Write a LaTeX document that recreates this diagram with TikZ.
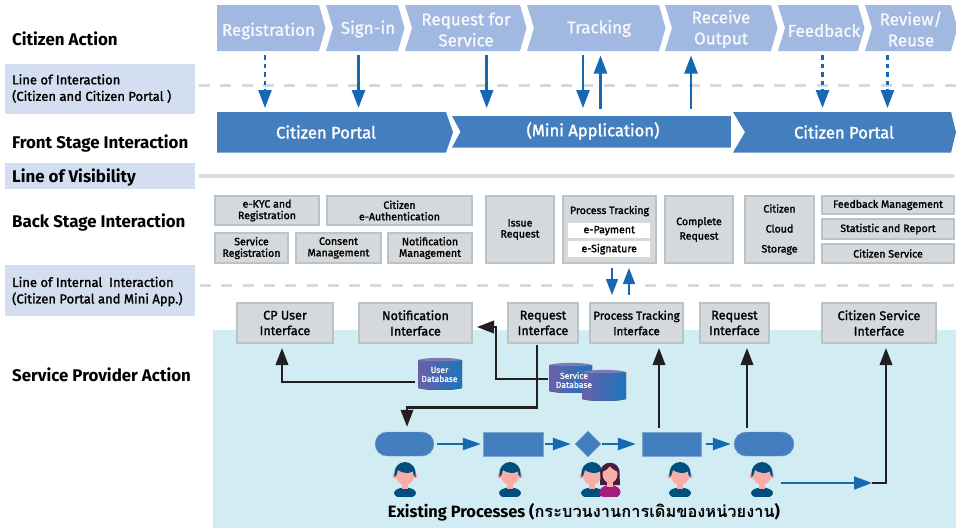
\documentclass[tikz,border=0pt]{standalone}
\usepackage{fontspec}
\setmainfont{Fira Sans}
\newfontfamily\medf[FakeBold=1.6]{Fira Sans}
\newfontfamily\lightmed[FakeBold=0.9]{Fira Sans}
\newfontfamily\thaifont[Script=Thai]{Loma}
\usetikzlibrary{arrows.meta,calc,shapes.geometric}
\definecolor{chevlight}{HTML}{A1B9E0}
\definecolor{chevdark}{HTML}{437EBF}
\definecolor{labelbg}{HTML}{D3DFF0}
\definecolor{linegray}{HTML}{D6DADD}
\definecolor{boxfill}{HTML}{D6D9DC}
\definecolor{boxedge}{HTML}{B9C3C9}
\definecolor{arrowblue}{HTML}{1569B3}
\definecolor{inkblack}{HTML}{231F20}
\definecolor{stagebg}{HTML}{D2ECF3}
\definecolor{hairblue}{HTML}{00507F}
\definecolor{skin}{HTML}{F9ADA7}
\definecolor{hairdark}{HTML}{451C3E}
\definecolor{dress}{HTML}{A51C7E}
\definecolor{dbleft}{HTML}{6A60A9}
\definecolor{dbright}{HTML}{1B75BB}
\newcommand{\fnt}[2]{\fontsize{#1}{#2}\selectfont}
\newcommand{\chv}[9]{%
  \pgfmathsetmacro{\ymid}{(#4+#5)/2}%
  \pgfmathsetmacro{\tipx}{#3+#6}%
  \pgfmathsetmacro{\notx}{#2+#7}%
  \fill[#8] (#2,#4) -- (#3,#4) -- (\tipx,\ymid) -- (#3,#5) -- (#2,#5) -- (\notx,\ymid) -- cycle;%
  \coordinate (#1) at (#2,\ymid);}
\newcommand{\bx}[7][bxst]{%
  \pgfmathsetmacro{\bxW}{#5-#3-2}%
  \pgfmathsetmacro{\bxH}{#6-#4-2}%
  \pgfmathsetmacro{\bxX}{(#3+#5)/2}%
  \pgfmathsetmacro{\bxY}{(#4+#6)/2}%
  \node[#1,minimum width=\bxW pt,minimum height=\bxH pt] (#2) at (\bxX,\bxY) {#7};}
\newcommand{\person}[5]{%
  \begin{scope}[shift={(#1,462)}]
    \begin{scope}
      \clip (-14,25.5) rectangle (14,34);
      \fill[#3] (0,31) ellipse [x radius=11,y radius=5.5];
    \end{scope}
    \fill[#2] (-3,18) rectangle (3,27);
    \fill[#2] (-10.2,14) circle [radius=2.4];
    \fill[#2] (10.2,14) circle [radius=2.4];
    \fill[#2] (0,12) ellipse [x radius=9.5,y radius=11];
    \fill[#4] (-10.5,15) .. controls (-13,-5) and (13,-5) .. (10.5,15) -- (8.5,13) -- (8,9.5) .. controls (3,12) and (-3,11) .. (-7,8) -- (-8.5,13) -- cycle;
    #5
  \end{scope}}
\newcommand{\cyl}[5]{%
  \fill[left color=dbleft,right color=dbright] (#1,#2+2) -- (#1,#4-2) .. controls (#1+8,#4+0.6) and (#3-8,#4+0.6) .. (#3,#4-2) -- (#3,#2+2) -- cycle;
  \fill[dbleft!85!white] (#1,#2+2) .. controls (#1+8,#2-0.8) and (#3-8,#2-0.8) .. (#3,#2+2) .. controls (#3-8,#2+3.6) and (#1+8,#2+3.6) .. (#1,#2+2) -- cycle;
  }
\tikzset{
  sideh/.style={anchor=west,inner sep=0pt,font=\bfseries\fnt{16.9}{20},text=black},
  sidel/.style={anchor=west,inner sep=0pt,align=left,font=\medf\fnt{13}{16.5},text=black},
  labelblock/.style={fill=labelbg,inner sep=0pt,anchor=north west},
  chevtxt/.style={text=white!92!chevlight,align=center,inner sep=0pt,font=\lightmed\fnt{17}{21}},
  portaltxt/.style={text=white,align=center,inner sep=0pt,font=\medf\fnt{16.6}{20}},
  bxst/.style={draw=boxedge,fill=boxfill,line width=2pt,inner sep=0pt,align=center,text=black,font=\medf\fnt{10.6}{11.5}},
  ifst/.style={bxst,font=\medf\fnt{12.6}{15.5}},
  wbox/.style={fill=white,inner sep=0pt,text=black,font=\medf\fnt{10.6}{11.5}},
  procshape/.style={fill=chevdark,draw=chevdark!70!white,line width=0.4pt,inner sep=0pt},
  blu/.style={draw=arrowblue,line width=2.5pt,-{Triangle[length=18pt,width=13pt]},arrowblue},
  bludash/.style={blu,dash pattern=on 4.5pt off 4pt},
  blus/.style={draw=arrowblue,line width=1.6pt,-{Triangle[length=16pt,width=12pt]},arrowblue},
  blup/.style={draw=arrowblue,line width=2.2pt,-{Triangle[length=18pt,width=12pt]},arrowblue},
  blk/.style={draw=inkblack,line width=2.2pt,-{Triangle[length=17pt,width=12.5pt]},inkblack},
  dbtxt/.style={text=white,align=center,inner sep=0pt,font=\lightmed\fnt{8.6}{9}},
}
\begin{document}
\begin{tikzpicture}[x=1pt,y=-1pt]
\useasboundingbox (0,0) rectangle (956,528);
\fill[white] (0,0) rectangle (956,528);
% service provider band
\fill[stagebg] (213,330) rectangle (956,528);
% side labels
\node[labelblock,minimum width=190pt,minimum height=50pt] (blockA) at (5,64) {};
\node[labelblock,minimum width=190pt,minimum height=26pt] (blockB) at (5,163) {};
\node[labelblock,minimum width=190pt,minimum height=51pt] (blockC) at (5,265) {};
\node[sideh] (hCitizen) at (12,39) {Citizen Action};
\node[sidel] (hLine1) at (12,88.5) {Line of Interaction\\(Citizen and Citizen Portal )};
\node[sideh] (hFront) at (12,144) {Front Stage Interaction};
\node[sideh] (hVis) at (12,177.5) {Line of Visibility};
\node[sideh] (hBack) at (12,223) {Back Stage Interaction};
\node[sidel] (hLine2) at (12,291.5) {Line of Internal\ \ Interaction\\(Citizen Portal and Mini App.)};
\node[sideh] (hServ) at (12,375) {Service Provider Action};
% lines
\draw[linegray,line width=3pt,dash pattern=on 11pt off 10.3pt] (199,85) -- (956,85);
\draw[linegray,line width=4pt] (199,175.5) -- (954,175.5);
\draw[linegray,line width=3pt,dash pattern=on 11pt off 10.3pt] (200,285) -- (593,285);
\draw[linegray,line width=3pt,dash pattern=on 11pt off 10.3pt] (645,285) -- (956,285);
% top chevrons
\chv{cReg}{217}{319}{5}{51}{6.5}{0}{chevlight}{}
\chv{cSign}{326}{398}{5}{51}{6.5}{7}{chevlight}{}
\chv{cReq}{405}{520}{5}{51}{6.5}{7}{chevlight}{}
\chv{cTrk}{527}{659}{5}{51}{6.5}{7}{chevlight}{}
\chv{cRcv}{665}{771}{5}{51}{6.5}{7}{chevlight}{}
\chv{cFb}{778}{858}{5}{51}{6.5}{7}{chevlight}{}
\chv{cRev}{865}{951}{5}{51}{6.5}{7}{chevlight}{}
\node[chevtxt] (tReg) at (268.5,31) {Registration};
\node[chevtxt] (tSign) at (368,29) {Sign-in};
\node[chevtxt] (tReq) at (466,29.5) {Request for\\Service};
\node[chevtxt] (tTrk) at (599,28.5) {Tracking};
\node[chevtxt] (tRcv) at (721,29) {Receive\\Output};
\node[chevtxt] (tFb) at (824,30.5) {Feedback};
\node[chevtxt] (tRev) at (911,29) {Review/\\Reuse};
% portal chevrons
\chv{pA}{217}{446}{112}{152.5}{7}{0}{chevdark}{}
\chv{pB}{452}{731}{116}{147.5}{7}{8.5}{chevdark}{}
\fill[white] (731,112) -- (745,132) -- (731,152.5) -- cycle;
\chv{pC}{733}{951}{112}{152.5}{5}{12}{chevdark}{}
\node[portaltxt] (tpA) at (326,132) {Citizen Portal};
\node[portaltxt] (tpB) at (593,131) {(Mini Application)};
\node[portaltxt] (tpC) at (844,132) {Citizen Portal};
% top connectors
\coordinate (a1) at (265,55); \coordinate (b1) at (265,108);
\coordinate (a2) at (358.5,55); \coordinate (b2) at (358.5,108);
\coordinate (a3) at (486.7,55); \coordinate (b3) at (486.7,108);
\coordinate (a4) at (583,55); \coordinate (b4) at (583,108);
\coordinate (a5) at (600.5,55.5); \coordinate (b5) at (600.5,108.5);
\coordinate (a6) at (691,55.5); \coordinate (b6) at (691,108.5);
\coordinate (a7) at (822.5,55); \coordinate (b7) at (822.5,108);
\coordinate (a8) at (887.5,55); \coordinate (b8) at (887.5,108);
\draw[bludash] (a1) -- (b1);
\draw[blu] (a2) -- (b2);
\draw[blu] (a3) -- (b3);
\draw[blu] (a4) -- (b4);
\draw[blu] (b5) -- (a5);
\draw[blu] (b6) -- (a6);
\draw[bludash] (a7) -- (b7);
\draw[bludash] (a8) -- (b8);
% back stage
\bx{eKYC}{214}{195}{320}{226}{e-KYC and\\Registration}
\bx{eAuth}{326}{195}{473}{226}{Citizen\\e-Authentication}
\bx{svcReg}{214}{232}{289}{264}{Service\\Registration}
\bx{consent}{295}{232}{382}{264}{Consent\\Management}
\bx{notifM}{387}{232}{473}{264}{Notification\\Management}
\bx[bxst,font=\medf\fnt{10.6}{11}]{issue}{485}{195}{555}{264}{Issue\\Request}
\bx{ptrack}{562}{195}{657}{264}{}
\node[wbox,minimum width=82pt,minimum height=15pt,anchor=north west] (pay) at (568,223) {e-Payment};
\node[wbox,minimum width=82pt,minimum height=16pt,anchor=north west] (sig) at (568,241) {e-Signature};
\node[inner sep=0pt,text=black,font=\medf\fnt{10.6}{11.5}] (ptlabel) at (609.5,211) {Process Tracking};
\bx[bxst,font=\medf\fnt{10.6}{14.5}]{complete}{664}{195}{734}{264}{Complete\\Request}
\bx[bxst,font=\medf\fnt{10.6}{20}]{cloud}{744}{195}{815}{264}{Citizen\\Cloud\\Storage}
\bx{fbm}{821}{195}{955}{215}{Feedback Management}
\bx{stat}{821}{218}{955}{240}{Statistic and Report}
\bx{csvc}{821}{243}{955}{264}{Citizen Service}
% interfaces
\bx[ifst]{cpui}{236}{302}{334}{344}{CP User\\Interface}
\bx[ifst]{notifI}{358}{302}{473}{344}{Notification\\Interface}
\bx[ifst]{reqI}{507}{302}{579}{344}{Request\\Interface}
\bx[ifst,font=\medf\fnt{11.6}{15.5}]{ptI}{589}{302}{684}{344}{Process Tracking\\Interface}
\bx[ifst]{reqII}{699}{302}{770}{344}{Request\\Interface}
\bx[ifst]{csI}{821}{302}{937}{344}{Citizen Service\\Interface}
\coordinate (sA) at (612,268); \coordinate (sB) at (612,295);
\coordinate (sC) at (629,295); \coordinate (sD) at (629,268);
\draw[blus] (sA) -- (sB);
\draw[blus] (sC) -- (sD);
% databases
\cyl{418}{358}{462}{390}{}
\cyl{549}{363}{592}{393}{}
\cyl{582}{370}{626}{401}{}
\node[dbtxt] (userDB) at (439.5,374.5) {User\\Database};
\node[dbtxt] (svcDB) at (574,380) {Service\\Database};
% process shapes
\node[procshape,rounded corners=12pt,minimum width=59pt,minimum height=24pt] (p1) at (404.5,444) {};
\node[procshape,minimum width=60pt,minimum height=24pt] (p2) at (513,444) {};
\node[procshape,diamond,shape aspect=1,minimum width=26pt,minimum height=26pt] (p3) at (588,444) {};
\node[procshape,minimum width=59pt,minimum height=24pt] (p4) at (671.5,444) {};
\node[procshape,rounded corners=12pt,minimum width=60pt,minimum height=24pt] (p5) at (764,444) {};
\draw[blup] ([xshift=3pt]p1.east) -- ([xshift=-2pt]p2.west);
\draw[blup] ([xshift=1.5pt]p2.east) -- ([xshift=-4pt]p3.west);
\draw[blup] ([xshift=1pt]p3.east) -- ([xshift=-6pt]p4.west);
\draw[blup] ([xshift=5pt]p4.east) -- ([xshift=-3pt]p5.west);
% black connectors
\coordinate (uEnd) at (415,382);
\draw[blk] (uEnd) -| ([yshift=-4pt,xshift=-3pt]cpui.south);
\coordinate (sEnd) at (548,379);
\coordinate (sBend) at (496,327);
\draw[blk] (sEnd) -- (496,379) -- (sBend) -- ([xshift=4pt]notifI.east |- sBend);
\draw[blk] ([xshift=-6pt,yshift=-1pt]reqI.south) -- ++(0,62.5) -| ([xshift=2.5pt,yshift=5pt]p1.north);
\coordinate (p4up) at (659,428);
\coordinate (p5up) at (747,428);
\draw[blk] (p4up) -- (659,348);
\draw[blk] (p5up) -- (747,348);
\coordinate (p6a) at (781,483);
\coordinate (p6b) at (872,483);
\draw[blk] (p6b) -| ([yshift=-4pt,xshift=7pt]csI.south);
\draw[draw=arrowblue,line width=1.8pt,-{Triangle[length=18pt,width=13pt]},arrowblue] (p6a) -- (p6b);
% people
\person{405}{skin}{hairblue}{hairblue}{}
\person{510}{skin}{hairblue}{hairblue}{}
\person{592}{skin}{hairblue}{hairblue}{}
\begin{scope}[shift={(610,462)}]
  \fill[hairdark] (-9.5,12) .. controls (-11,-3) and (11,-3) .. (9.5,12) -- (10,23) -- (-10,23) -- cycle;
  \begin{scope}
    \clip (-14,22) rectangle (14,34);
    \fill[dress] (0,30) ellipse [x radius=10.5,y radius=7];
  \end{scope}
  \fill[skin] (-3,16) rectangle (3,25);
  \fill[skin] (0,12) ellipse [x radius=7.5,y radius=9];
  \fill[hairdark] (-8,10) .. controls (-7,0) and (7,0) .. (8,10) .. controls (4,8) and (1,6) .. (0,4) .. controls (-2,7) and (-5,9) .. (-8,10) -- cycle;
\end{scope}
\person{680}{skin}{hairblue}{hairblue}{}
\person{762}{skin}{hairblue}{hairblue}{}
\node[inner sep=0pt,text=black,font=\bfseries\fnt{16.4}{20}] (exist) at (584,512) {Existing Processes ({\thaifont กระบวนงานการเดิมของหน่วยงาน})};
\end{tikzpicture}
\end{document}
